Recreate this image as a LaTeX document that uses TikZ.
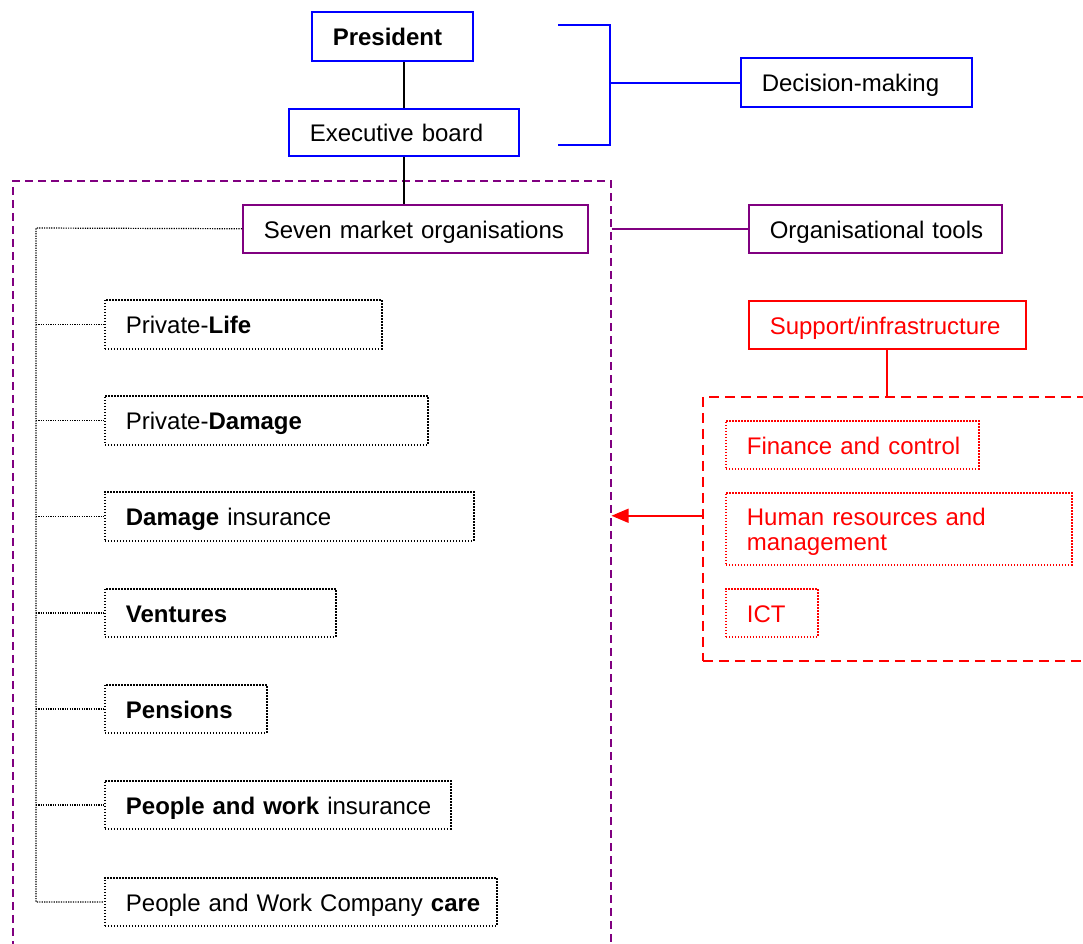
\documentclass[tikz,border=0pt]{standalone}
\usepackage{fontspec}
\setmainfont{Liberation Sans}
\usetikzlibrary{arrows.meta}
\definecolor{orgblue}{RGB}{0,0,255}
\definecolor{orgpurple}{RGB}{128,0,128}
\definecolor{orgred}{RGB}{255,0,0}
\begin{document}
\begin{tikzpicture}[x=1pt,y=-1pt,
  every node/.style={font=\fontsize{24}{25}\selectfont},
  cell/.style n args={2}{anchor=north west, minimum width=#1pt, minimum height=#2pt,
    text width=#1pt-42pt, inner xsep=21pt, inner ysep=0pt, align=left,
    text height=21pt, text depth=2pt},
  bluebox/.style={draw=orgblue, line width=1.5pt},
  purplebox/.style={draw=orgpurple, line width=1.5pt},
  redbox/.style={draw=orgred, line width=1.5pt, text=orgred},
  unitbox/.style={draw=black, line width=1.8pt, dash pattern=on 1.5pt off 1.5pt},
  redunit/.style={draw=orgred, line width=1.8pt, dash pattern=on 1.5pt off 1.5pt, text=orgred},
  frame/.style={line width=1.5pt, dash pattern=on 8pt off 5pt},
  spine/.style={draw=black, line width=1.2pt, dash pattern=on 1.2pt off 1.2pt},
  link/.style={draw=black, line width=1.5pt}]
\clip (0,0) rectangle (1083,943);

% decision level
\node[bluebox, cell={161}{49}] (pres) at (311,11) {\mbox{\textbf{President}}};
\node[bluebox, cell={230}{47}] (exec) at (288,108) {\mbox{Executive board}};
\node[bluebox, cell={231}{49}] (dec) at (740,57) {\mbox{Decision-making}};
\coordinate (brtop) at (558,25);
\coordinate (brbot) at (558,145);
\coordinate (brmid) at (610,83);
\draw[orgblue, line width=1.5pt] (brtop) -| (brmid) |- (brbot);
\draw[orgblue, line width=1.5pt] (brmid) -- (brmid -| dec.west);
\draw[link] (exec.north) -- (exec.north |- pres.south);

% market organisations
\node[draw=orgpurple, frame, anchor=north west, minimum width=598pt, minimum height=800pt] (mkt) at (12,180) {};
\node[purplebox, cell={345}{48}] (seven) at (242,204) {\mbox{Seven market organisations}};
\node[purplebox, cell={253}{48}] (tools) at (748,204) {\mbox{Organisational tools}};
\draw[orgpurple, line width=1.5pt] (mkt.east |- seven.east) -- (tools.west);
\draw[link] (exec.south) -- (exec.south |- seven.north);

\node[unitbox, cell={277}{49}] (life) at (104,299) {\mbox{Private-\textbf{Life}}};
\node[unitbox, cell={323}{49}] (pdam) at (104,395) {\mbox{Private-\textbf{Damage}}};
\node[unitbox, cell={369}{49}] (dins) at (104,491) {\mbox{\textbf{Damage} insurance}};
\node[unitbox, cell={231}{48}] (vent) at (104,588) {\mbox{\textbf{Ventures}}};
\node[unitbox, cell={162}{48}] (pens) at (104,684) {\mbox{\textbf{Pensions}}};
\node[unitbox, cell={346}{48}] (pwi) at (104,780) {\mbox{\textbf{People and work} insurance}};
\node[unitbox, cell={392}{48}] (care) at (104,877) {\mbox{People and Work Company \textbf{care}}};

\coordinate (sp) at (36,228);
\draw[spine] (seven.west) -- (sp) -- (sp |- care.west) -- (care.west);
\foreach \u in {life,pdam,dins,vent,pens,pwi}
  \draw[spine] (sp |- \u.west) -- (\u.west);

% support / infrastructure
\node[redbox, cell={277}{48}] (supp) at (748,300) {\mbox{Support/infrastructure}};
\node[draw=orgred, line width=1.5pt, dash pattern=on 10pt off 6pt, anchor=north west,
  minimum width=420pt, minimum height=264pt] (infra) at (702,396) {};
\draw[orgred, line width=2pt] (supp.south) -- (supp.south |- infra.north);
\node[redunit, cell={253}{48}] (fin) at (725,420) {\mbox{Finance and control}};
\node[redunit, cell={346}{72}, text height=21pt, text depth=27pt, inner ysep=12pt] (hr) at (725,492)
  {Human resources and\\management};
\node[redunit, cell={92}{48}] (ict) at (725,588) {\mbox{ICT}};

\draw[orgred, line width=1.5pt, -{Triangle[length=17pt, width=14pt]}]
  ([yshift=13pt]infra.west) -- ([yshift=13pt]infra.west -| mkt.east);
\end{tikzpicture}
\end{document}
